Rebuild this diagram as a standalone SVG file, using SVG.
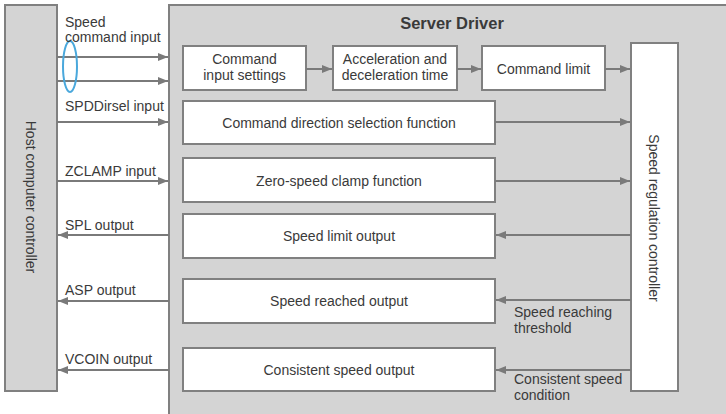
<svg xmlns="http://www.w3.org/2000/svg" width="726" height="414" viewBox="0 0 726 414">
<style>
.panel{fill:#d4d4d4;stroke:#808080;stroke-width:2}
.box{fill:#ffffff;stroke:#808080;stroke-width:2}
.t{font-family:"Liberation Sans",Arial,sans-serif;font-size:14px;fill:#3a3a3a}
.c{text-anchor:middle}
.b{font-weight:bold;font-size:16.5px}
.ln{stroke:#7a7a7a;stroke-width:2;fill:none;marker-end:url(#ah)}
</style>
<defs>
<marker id="ah" viewBox="0 0 10 8" refX="10" refY="4" markerWidth="10" markerHeight="8" markerUnits="userSpaceOnUse" orient="auto">
<path d="M0,0 L10,4 L0,8 Z" fill="#7a7a7a"/>
</marker>
</defs>
<rect width="726" height="414" fill="#ffffff"/>
<g id="server-driver">
<rect class="panel" x="169" y="5" width="570" height="420"/>
<text class="t c b" x="452" y="29">Server Driver</text>
</g>
<g id="host">
<rect class="panel" x="5" y="5" width="52" height="386"/>
<text class="t c" transform="translate(26,197) rotate(90)">Host computer controller</text>
</g>
<g id="cmd-input">
<rect class="box" x="183" y="46" width="123" height="44"/>
<text class="t c" x="244.5" y="64">Command</text>
<text class="t c" x="244.5" y="80">input settings</text>
</g>
<g id="accel">
<rect class="box" x="333" y="46" width="124" height="44"/>
<text class="t c" x="395" y="64">Acceleration and</text>
<text class="t c" x="395" y="80">deceleration time</text>
</g>
<g id="cmd-limit">
<rect class="box" x="482" y="46" width="123" height="44"/>
<text class="t c" x="543.5" y="74">Command limit</text>
</g>
<g id="src">
<rect class="box" x="631" y="43" width="47" height="348"/>
<text class="t c" transform="translate(649,218) rotate(90)">Speed regulation controller</text>
</g>
<g id="dir-sel">
<rect class="box" x="183" y="101" width="312" height="43"/>
<text class="t c" x="339" y="128">Command direction selection function</text>
</g>
<g id="zclamp">
<rect class="box" x="183" y="158" width="312" height="44"/>
<text class="t c" x="339" y="186">Zero-speed clamp function</text>
</g>
<g id="spl">
<rect class="box" x="183" y="214" width="312" height="44"/>
<text class="t c" x="339" y="241">Speed limit output</text>
</g>
<g id="asp">
<rect class="box" x="183" y="279" width="312" height="44"/>
<text class="t c" x="339" y="306">Speed reached output</text>
</g>
<g id="vcoin">
<rect class="box" x="183" y="348" width="312" height="43"/>
<text class="t c" x="339" y="375">Consistent speed output</text>
</g>
<g id="connectors">
<path class="ln" d="M57,57 H168"/>
<path class="ln" d="M57,81 H168"/>
<path class="ln" d="M306,69 H332"/>
<path class="ln" d="M457,69 H481"/>
<path class="ln" d="M605,69 H630"/>
<path class="ln" d="M57,122 H168"/>
<path class="ln" d="M495,122 H630"/>
<path class="ln" d="M57,181 H168"/>
<path class="ln" d="M495,181 H630"/>
<path class="ln" d="M631,235 H496"/>
<path class="ln" d="M169,235 H58"/>
<path class="ln" d="M631,300 H496"/>
<path class="ln" d="M169,301 H58"/>
<path class="ln" d="M631,370 H496"/>
<path class="ln" d="M169,370 H58"/>
<ellipse cx="70" cy="66.5" rx="7" ry="25.5" fill="none" stroke="#4aa8dc" stroke-width="2"/>
<text class="t" x="65" y="27">Speed</text>
<text class="t" x="65" y="42">command input</text>
<text class="t" x="65" y="111">SPDDirsel input</text>
<text class="t" x="65" y="176">ZCLAMP input</text>
<text class="t" x="65" y="230">SPL output</text>
<text class="t" x="65" y="295">ASP output</text>
<text class="t" x="65" y="364">VCOIN output</text>
<text class="t" x="514" y="317">Speed reaching</text>
<text class="t" x="514" y="333">threshold</text>
<text class="t" x="514" y="384">Consistent speed</text>
<text class="t" x="514" y="400">condition</text>
</g>
</svg>
